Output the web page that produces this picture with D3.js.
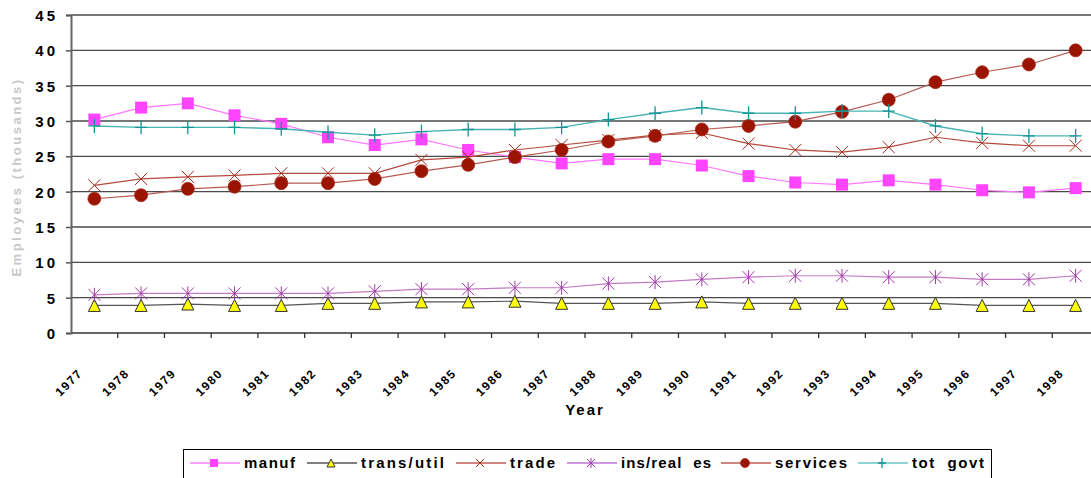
<!DOCTYPE html>
<html>
<head>
<meta charset="utf-8">
<script src="https://cdn.jsdelivr.net/npm/d3@7"></script>
<style>
  html, body { margin: 0; padding: 0; background: #fff; }
  svg { display: block; font-family: "Liberation Sans", Arial, sans-serif; }
</style>
</head>
<body>
<svg id="chart" width="1091" height="478"></svg>
<script>
// Employment by sector, thousands of employees
const years = ["1977","1978","1979","1980","1981","1982","1983","1984","1985","1986","1987",
               "1988","1989","1990","1991","1992","1993","1994","1995","1996","1997","1998"];
const manuf     = [30.2, 31.9, 32.5, 30.8, 29.6, 27.7, 26.6, 27.4, 25.9, 24.9, 24.0, 24.6, 24.6, 23.7, 22.2, 21.3, 21.0, 21.6, 21.0, 20.2, 19.9, 20.5];
const transUtil = [3.9, 3.9, 4.1, 3.9, 3.9, 4.2, 4.2, 4.4, 4.4, 4.5, 4.2, 4.2, 4.2, 4.4, 4.2, 4.2, 4.2, 4.2, 4.2, 3.9, 3.9, 3.9];
const trade     = [20.9, 21.8, 22.1, 22.3, 22.6, 22.6, 22.6, 24.5, 24.9, 25.9, 26.6, 27.3, 28.0, 28.3, 26.8, 25.9, 25.6, 26.3, 27.7, 26.9, 26.5, 26.5];
const insReal   = [5.4, 5.6, 5.6, 5.6, 5.6, 5.6, 5.9, 6.2, 6.2, 6.4, 6.4, 7.0, 7.2, 7.6, 7.9, 8.1, 8.1, 7.9, 7.9, 7.6, 7.6, 8.1];
const services  = [19.0, 19.5, 20.4, 20.7, 21.2, 21.2, 21.8, 22.9, 23.8, 24.9, 25.9, 27.1, 27.9, 28.8, 29.3, 29.9, 31.3, 33.0, 35.5, 36.9, 38.0, 40.0];
const totGovt   = [29.3, 29.1, 29.1, 29.1, 28.9, 28.4, 28.0, 28.5, 28.8, 28.8, 29.1, 30.2, 31.1, 31.9, 31.1, 31.1, 31.4, 31.4, 29.3, 28.2, 27.9, 27.9];
const yTicks = [0, 5, 10, 15, 20, 25, 30, 35, 40, 45];
const seriesNames = ["manuf", "trans/util", "trade", "ins/real  es", "services", "tot  govt"];

// marker shapes, drawn around (0,0)
const shapes = {
  square:   s => `M${-s},${-s}H${s}V${s}H${-s}Z`,
  triangle: s => `M0,${-s}L${s},${s}L${-s},${s}Z`,
  cross:    s => `M${-s},${-s}L${s},${s}M${s},${-s}L${-s},${s}`,
  star:     s => `M${-s},${-s}L${s},${s}M${s},${-s}L${-s},${s}M0,${-s-1}L0,${s+1}`,
  circle:   s => `M${-s},0A${s},${s} 0 1,0 ${s},0A${s},${s} 0 1,0 ${-s},0Z`,
  plus:     s => `M${-s},0L${s},0M0,${-s-1}L0,${s+1}`
};

const series = [
  { name: seriesNames[0], values: manuf,     line: "#ff77ff", lineW: 1.2, shape: "square",   fill: "#ff44ff", stroke: "none",    sw: 0,   legLine: "#ff44ff" },
  { name: seriesNames[1], values: transUtil, line: "#555555", lineW: 1.2, shape: "triangle", fill: "#ffff00", stroke: "#333333", sw: 1,   legLine: "#000000" },
  { name: seriesNames[2], values: trade,     line: "#b5493c", lineW: 1.2, shape: "cross",    fill: "none",    stroke: "#a52a1c", sw: 1,   legLine: "#a01000" },
  { name: seriesNames[3], values: insReal,   line: "#c27ac2", lineW: 1.2, shape: "star",     fill: "none",    stroke: "#a03aa8", sw: 1,   legLine: "#a030c0" },
  { name: seriesNames[4], values: services,  line: "#b65a52", lineW: 1.2, shape: "circle",   fill: "#9b1400", stroke: "#a52a1c", sw: 0.8, legLine: "#a01000" },
  { name: seriesNames[5], values: totGovt,   line: "#4ab3b3", lineW: 1.4, shape: "plus",     fill: "none",    stroke: "#109494", sw: 1.3, legLine: "#20a8a8" }
];

// legend layout: start of each key line and width of its label
const legendStart = [190, 307, 456, 567, 721, 858];
const legendTextW = [51, 83, 45, 90, 72, 72];

const svg = d3.select("#chart");
const W = 1091;

const x = d3.scaleBand().domain(years).range([71, 1099]).padding(0);
const y = d3.scaleLinear().domain([0, 45]).range([333, 15]);
const cx = d => x(d) + x.bandwidth() / 2;

// horizontal gridlines
svg.append("g").selectAll("line").data(yTicks.filter(t => t > 0)).join("line")
  .attr("x1", 71).attr("x2", W)
  .attr("y1", d => y(d)).attr("y2", d => y(d))
  .attr("stroke", "#4a4a4a").attr("stroke-width", 1.4);

// y axis
const yAxis = svg.append("g").attr("transform", "translate(71,0)")
  .call(d3.axisLeft(y).tickValues(yTicks).tickSize(5).tickPadding(8).tickFormat(d3.format("d")));
yAxis.select(".domain").attr("stroke", "#666").attr("stroke-width", 2);
yAxis.selectAll(".tick line").attr("stroke", "#555").attr("stroke-width", 1.5);
yAxis.selectAll(".tick text")
  .attr("font-size", 15).attr("font-weight", "bold").attr("fill", "#000")
  .attr("font-family", "Liberation Sans, Arial, sans-serif")
  .style("letter-spacing", "3px").attr("dy", "0.36em");

// x axis
const xAxis = svg.append("g").attr("transform", "translate(0,333)")
  .call(d3.axisBottom(x).tickSize(0).tickPadding(0));
xAxis.select(".domain").attr("d", `M71,0H${W}`).attr("stroke", "#666").attr("stroke-width", 2);
xAxis.selectAll(".tick text")
  .attr("font-size", 12).attr("font-weight", "bold").attr("fill", "#000")
  .attr("font-family", "Liberation Sans, Arial, sans-serif")
  .style("letter-spacing", "1.5px")
  .attr("text-anchor", "end")
  .attr("transform", "translate(-14,38) rotate(-45)")
  .attr("y", 0).attr("dy", "0.35em");
// tick marks sit on category boundaries
xAxis.append("g").selectAll("line").data(years.slice(1).concat(["__end"])).join("line")
  .attr("x1", d => d === "__end" ? 1099 : x(d)).attr("x2", d => d === "__end" ? 1099 : x(d))
  .attr("y1", 0).attr("y2", 5)
  .attr("stroke", "#333").attr("stroke-width", 1.3);

// axis titles
svg.append("text")
  .attr("transform", "translate(21,177) rotate(-90)")
  .attr("text-anchor", "middle")
  .attr("font-size", 13).attr("font-weight", "bold")
  .attr("fill", "#c8c8c8")
  .style("letter-spacing", "2.5px")
  .text("Employees (thousands)");

svg.append("text")
  .attr("x", 585).attr("y", 415)
  .attr("text-anchor", "middle")
  .attr("font-size", 15).attr("font-weight", "bold")
  .style("letter-spacing", "2px")
  .text("Year");

// series lines and markers, later series on top
const line = d3.line().x((d, i) => cx(years[i])).y(d => y(d));
series.forEach(s => {
  const g = svg.append("g");
  g.append("path").datum(s.values)
    .attr("d", line).attr("fill", "none")
    .attr("stroke", s.line).attr("stroke-width", s.lineW);
  g.selectAll("path.m").data(s.values).join("path").attr("class", "m")
    .attr("transform", (d, i) => `translate(${cx(years[i])},${y(d)})`)
    .attr("d", shapes[s.shape](s.shape === "circle" ? 6.5 : 6))
    .attr("fill", s.fill).attr("stroke", s.stroke).attr("stroke-width", s.sw);
});

// legend
const leg = svg.append("g");
leg.append("rect").attr("x", 183.5).attr("y", 449.5).attr("width", 808).attr("height", 40)
  .attr("fill", "#fff").attr("stroke", "#000").attr("stroke-width", 1);
series.forEach((s, i) => {
  const lx = legendStart[i], ly = 463;
  leg.append("line").attr("x1", lx).attr("x2", lx + 50).attr("y1", ly).attr("y2", ly)
    .attr("stroke", s.legLine).attr("stroke-width", 1.2);
  leg.append("path")
    .attr("transform", `translate(${lx + 24},${ly})`)
    .attr("d", shapes[s.shape](s.shape === "circle" ? 4.5 : 4))
    .attr("fill", s.fill)
    .attr("stroke", s.stroke).attr("stroke-width", s.sw);
  leg.append("text")
    .attr("x", lx + 54).attr("y", ly + 5)
    .attr("font-size", 15).attr("font-weight", "bold")
    .style("white-space", "pre")
    .attr("textLength", legendTextW[i]).attr("lengthAdjust", "spacing")
    .text(s.name);
});
</script>
</body>
</html>
